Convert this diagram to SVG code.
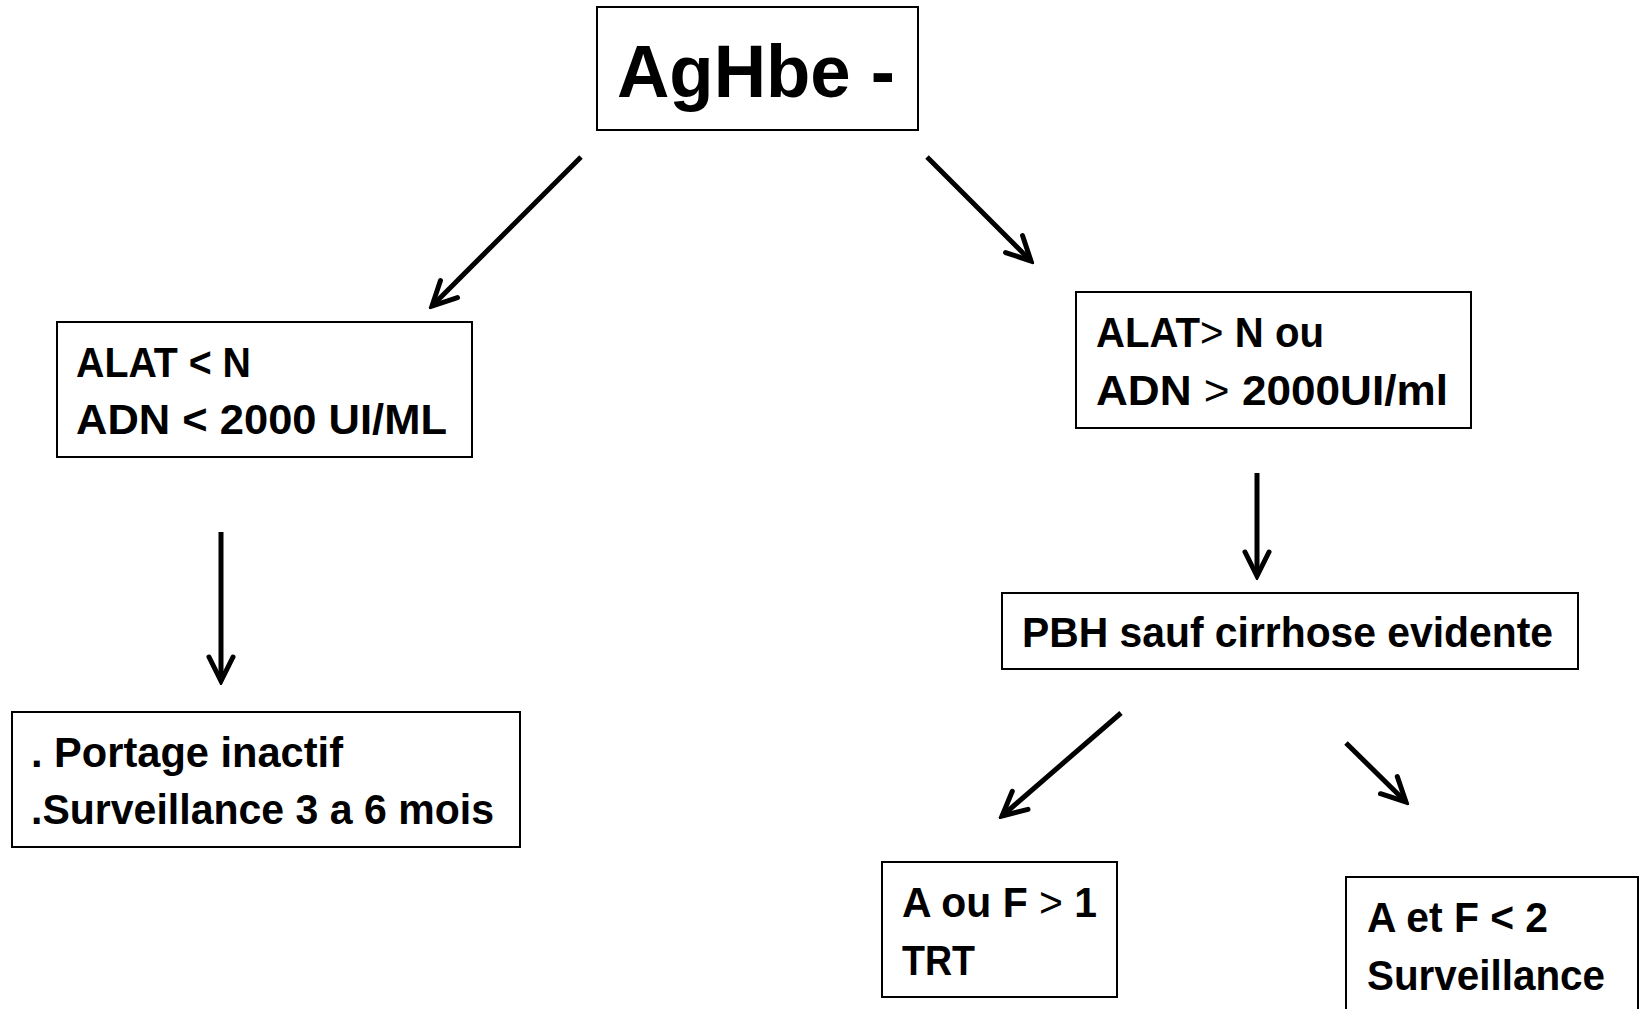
<svg xmlns="http://www.w3.org/2000/svg" width="1640" height="1009" viewBox="0 0 1640 1009">
<style>
.box{fill:#fff;stroke:#000;stroke-width:2}
.t{font-family:"Liberation Sans",Arial,sans-serif;font-weight:bold;font-size:42px;fill:#000}
.big{font-size:74px}
.thin{font-weight:normal}
.conn line{stroke:#000;stroke-width:5;marker-end:url(#ah)}
</style>
<defs>
<marker id="ah" markerUnits="userSpaceOnUse" viewBox="-30 -16 34 32" refX="0" refY="0" markerWidth="34" markerHeight="32" orient="auto">
<path d="M-24,-12 L0,0 L-24,12" fill="none" stroke="#000" stroke-width="5" stroke-linecap="round" stroke-linejoin="miter"/>
</marker>
</defs>
<rect width="1640" height="1009" fill="#fff"/>
<g id="n-aghbe">
<rect class="box" x="597" y="7" width="321" height="123"/>
<text class="t big" x="617" y="97" textLength="278" lengthAdjust="spacingAndGlyphs">AgHbe -</text>
</g>
<g id="n-alat-low">
<rect class="box" x="57" y="322" width="415" height="135"/>
<text class="t" x="76" y="377" textLength="175" lengthAdjust="spacingAndGlyphs">ALAT &lt; N</text>
<text class="t" x="76" y="434" textLength="371" lengthAdjust="spacingAndGlyphs">ADN &lt; 2000 UI/ML</text>
</g>
<g id="n-alat-high">
<rect class="box" x="1076" y="292" width="395" height="136"/>
<text class="t" x="1096" y="347" textLength="228" lengthAdjust="spacingAndGlyphs">ALAT<tspan class="thin">&gt;</tspan> N ou</text>
<text class="t" x="1096" y="405" textLength="352" lengthAdjust="spacingAndGlyphs">ADN <tspan class="thin">&gt;</tspan> 2000UI/ml</text>
</g>
<g id="n-portage">
<rect class="box" x="12" y="712" width="508" height="135"/>
<text class="t" x="31" y="767" textLength="312" lengthAdjust="spacingAndGlyphs">. Portage inactif</text>
<text class="t" x="31" y="824" textLength="463" lengthAdjust="spacingAndGlyphs">.Surveillance 3 a 6 mois</text>
</g>
<g id="n-pbh">
<rect class="box" x="1002" y="593" width="576" height="76"/>
<text class="t" x="1022" y="647" textLength="531" lengthAdjust="spacingAndGlyphs">PBH sauf cirrhose evidente</text>
</g>
<g id="n-trt">
<rect class="box" x="882" y="862" width="235" height="135"/>
<text class="t" x="902" y="917" textLength="195" lengthAdjust="spacingAndGlyphs">A ou F <tspan class="thin">&gt;</tspan> 1</text>
<text class="t" x="902" y="975" textLength="73" lengthAdjust="spacingAndGlyphs">TRT</text>
</g>
<g id="n-surv">
<rect class="box" x="1346" y="877" width="292" height="140"/>
<text class="t" x="1367" y="932" textLength="181" lengthAdjust="spacingAndGlyphs">A et F &lt; 2</text>
<text class="t" x="1367" y="990" textLength="238" lengthAdjust="spacingAndGlyphs">Surveillance</text>
</g>
<g id="connectors" class="conn">
<line x1="581" y1="157" x2="432" y2="306"/>
<line x1="927" y1="157" x2="1031" y2="261"/>
<line x1="221" y1="532" x2="221" y2="681"/>
<line x1="1257" y1="473" x2="1257" y2="576"/>
<line x1="1121" y1="713" x2="1002" y2="816"/>
<line x1="1346" y1="743" x2="1406" y2="802"/>
</g>
</svg>
